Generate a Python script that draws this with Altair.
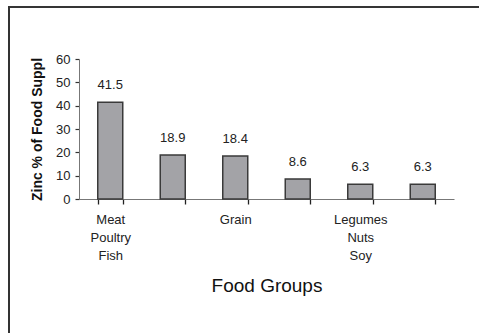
import altair as alt
import pandas as pd

groups = ["Meat|Poultry|Fish", "(2)", "Grain", "(4)", "Legumes|Nuts|Soy", "(6)"]
values = [41.5, 18.9, 18.4, 8.6, 6.3, 6.3]
value_labels = ["41.5", "18.9", "18.4", "8.6", "6.3", "6.3"]
y_ticks = [0, 10, 20, 30, 40, 50, 60]

df = pd.DataFrame({"group": groups, "value": values, "label": value_labels})

FONT = "Liberation Sans"

x = alt.X(
    "group:N",
    sort=groups,
    title="Food Groups",
    scale=alt.Scale(paddingInner=0.6, paddingOuter=0.3),
    axis=alt.Axis(
        labelAngle=0,
        labelExpr="slice(datum.label, 0, 1) == '(' ? '' : split(datum.label, '|')",
        labelFont=FONT,
        labelFontSize=13,
        labelColor="#222",
        labelLineHeight=18,
        labelPadding=9,
        labelBaseline="top",
        tickBand="extent",
        tickSize=5,
        tickWidth=1.3,
        tickColor="#222",
        domainColor="#777",
        titleFont=FONT,
        titleFontSize=19,
        titleFontWeight="normal",
        titleColor="#111",
        titleY=86,
        titleBaseline="middle",
    ),
)

y = alt.Y(
    "value:Q",
    title="Zinc % of Food Suppl",
    scale=alt.Scale(domain=[0, 60], nice=False),
    axis=alt.Axis(
        values=y_ticks,
        labelOverlap=False,
        grid=False,
        tickSize=4,
        tickWidth=1.2,
        tickColor="#333",
        domainColor="#777",
        labelFont=FONT,
        labelFontSize=13,
        labelColor="#222",
        labelPadding=5,
        titleFont=FONT,
        titleFontSize=14,
        titleFontWeight="bold",
        titleColor="#111",
        titleX=-42,
        titleY=70,
        titleAngle=-90,
        titleBaseline="middle",
        titleAlign="center",
    ),
)

bars = alt.Chart(df).mark_bar(
    color="#a3a3a7", stroke="#3a3a3a", strokeWidth=1.5
).encode(x=x, y=y)

text = alt.Chart(df).mark_text(
    font=FONT, fontSize=13, color="#222", dy=-17, baseline="middle"
).encode(x=x, y=y, text="label:N")

frame_left = alt.Chart(df).mark_rule(color="#333", strokeWidth=2).encode(
    x=alt.value(-70), y=alt.value(-52), y2=alt.value(280)
)
frame_top = alt.Chart(df).mark_rule(color="#333", strokeWidth=1).encode(
    x=alt.value(-71), x2=alt.value(410), y=alt.value(-52)
)

chart = (
    alt.layer(bars, text, frame_left, frame_top)
    .properties(
        width=375,
        height=140,
        autosize=alt.AutoSizeParams(type="none"),
        padding={"left": 79, "top": 59, "right": 25, "bottom": 134},
        background="white",
    )
    .configure_view(stroke=None)
)

chart.save("out.html", embed_options={"renderer": "svg", "actions": False})
